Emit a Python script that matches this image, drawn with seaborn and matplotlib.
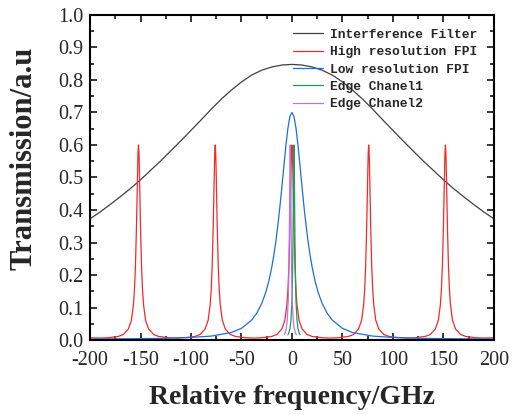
import numpy as np
import pandas as pd
import seaborn as sns
import matplotlib.pyplot as plt
from matplotlib.ticker import MultipleLocator

# ---------------- data ----------------
# Interference filter (broad curve), sampled every 10 GHz
filter_freq = [-200, -190, -180, -170, -160, -150, -140, -130, -120, -110, -100,
               -90, -80, -70, -60, -50, -40, -30, -20, -10, 0,
               10, 20, 30, 40, 50, 60, 70, 80, 90, 100,
               110, 120, 130, 140, 150, 160, 170, 180, 190, 200]
filter_trans = [0.373, 0.394, 0.417, 0.441, 0.466, 0.493, 0.522, 0.551, 0.582, 0.613, 0.645,
                0.677, 0.710, 0.741, 0.769, 0.794, 0.815, 0.830, 0.840, 0.846, 0.848,
                0.846, 0.840, 0.830, 0.815, 0.794, 0.769, 0.741, 0.710, 0.677, 0.645,
                0.613, 0.582, 0.551, 0.522, 0.493, 0.466, 0.441, 0.417, 0.394, 0.373]

# High resolution FPI: peak centres and one peak profile (offset -> transmission)
hr_centers = [-152, -76, 0, 76, 152]
hr_offset = [-38, -30, -20, -15, -10, -7, -5, -4, -3, -2, -1.5, -1, -0.5, 0,
             0.5, 1, 1.5, 2, 3, 4, 5, 7, 10, 15, 20, 30, 38]
hr_trans = [0.006, 0.007, 0.011, 0.017, 0.034, 0.061, 0.109, 0.154, 0.228, 0.348, 0.426, 0.508, 0.574, 0.600,
            0.574, 0.508, 0.426, 0.348, 0.228, 0.154, 0.109, 0.061, 0.034, 0.017, 0.011, 0.007, 0.006]
hr_end_freq = [-200, 200]
hr_end_trans = [0.007, 0.007]

# Low resolution FPI
lr_freq = [-200, -160, -130, -100, -80, -60, -50, -40, -35, -30, -26, -23, -20, -18, -16, -14, -12, -10,
           -8, -6, -4, -2, 0,
           2, 4, 6, 8, 10, 12, 14, 16, 18, 20, 23, 26, 30, 35, 40, 50, 60, 80, 100, 130, 160, 200]
lr_trans = [0.003, 0.004, 0.005, 0.008, 0.012, 0.023, 0.036, 0.061, 0.082, 0.112, 0.146, 0.180, 0.224,
            0.260, 0.302, 0.352, 0.408, 0.470, 0.535, 0.598, 0.652, 0.688, 0.700,
            0.688, 0.652, 0.598, 0.535, 0.470, 0.408, 0.352, 0.302, 0.260, 0.224, 0.180, 0.146,
            0.112, 0.082, 0.061, 0.036, 0.023, 0.012, 0.008, 0.005, 0.004, 0.003]

# Edge channels: centre and profile
edge_centers = {"Edge Chanel1": 2.0, "Edge Chanel2": -1.7}
edge_offset = [-6, -5, -4, -3, -2, -1.5, -1, -0.75, -0.5, -0.25, 0,
               0.25, 0.5, 0.75, 1, 1.5, 2, 3, 4, 5, 6]
edge_trans = [0.016, 0.023, 0.035, 0.060, 0.120, 0.185, 0.300, 0.384, 0.480, 0.565, 0.600,
              0.565, 0.480, 0.384, 0.300, 0.185, 0.120, 0.060, 0.035, 0.023, 0.016]

labels = ["Interference Filter", "High resolution FPI", "Low resolution FPI",
          "Edge Chanel1", "Edge Chanel2"]
colors = ["#404040", "#f22a2a", "#1c6ee0", "#1f9e55", "#b27ae8"]

# ---------------- build long table ----------------
frames = [pd.DataFrame({"freq": filter_freq, "trans": filter_trans, "series": labels[0]})]

hx, hy = [], []
for c in hr_centers:
    hx += [c + o for o in hr_offset]
    hy += list(hr_trans)
hx += hr_end_freq
hy += hr_end_trans
hr = pd.DataFrame({"freq": hx, "trans": hy}).sort_values("freq", kind="stable")
hr["series"] = labels[1]
frames.append(hr)

frames.append(pd.DataFrame({"freq": lr_freq, "trans": lr_trans, "series": labels[2]}))

for name in labels[3:]:
    c = edge_centers[name]
    frames.append(pd.DataFrame({"freq": [c + o for o in edge_offset],
                                "trans": edge_trans, "series": name}))

df = pd.concat(frames, ignore_index=True)

# ---------------- plot ----------------
sns.set_style("ticks")
plt.rcParams["font.family"] = ["Liberation Serif", "DejaVu Serif"]

fig = plt.figure(figsize=(5.15, 4.15), dpi=100)
ax = fig.add_axes([0.1748, 0.1807, 0.7842, 0.7832])

sns.lineplot(data=df, x="freq", y="trans", hue="series", hue_order=labels,
             palette=dict(zip(labels, colors)), estimator=None, sort=False,
             linewidth=0.9, ax=ax)

ax.set_xlim(-200, 200)
ax.set_ylim(0, 1.0)
ax.set_xticks(np.arange(-200, 201, 50))
ax.set_xticklabels([str(v) for v in range(-200, 201, 50)])
ax.set_yticks(np.round(np.arange(0, 1.01, 0.1), 1))
ax.set_yticklabels([f"{v:.1f}" for v in np.arange(0, 1.01, 0.1)])
ax.xaxis.set_minor_locator(MultipleLocator(25))
ax.yaxis.set_minor_locator(MultipleLocator(0.05))

ax.tick_params(which="both", direction="in", top=True, right=True, width=1.3)
ax.tick_params(which="major", length=5, labelsize=14.5)
ax.tick_params(axis="x", which="major", pad=8)
ax.tick_params(axis="y", which="major", pad=5)
ax.tick_params(which="minor", length=3)
for s in ax.spines.values():
    s.set_linewidth(1.5)
    s.set_color("black")

ax.set_xlabel("Relative frequency/GHz", fontsize=20, fontweight="bold", labelpad=11)
ax.set_ylabel("Transmission/a.u", fontsize=22, fontweight="bold")
ax.yaxis.set_label_coords(-0.128, 0.56)

handles, labs = ax.get_legend_handles_labels()
if ax.get_legend() is not None:
    ax.get_legend().remove()
ax.legend(handles, labs, loc="upper right", bbox_to_anchor=(0.985, 0.99), frameon=False,
          prop={"family": "Liberation Mono", "weight": "bold", "size": 9.3},
          handlelength=2.3, handletextpad=0.55, labelspacing=0.42, borderaxespad=0.4)

fig.savefig("out.png", dpi=100)
